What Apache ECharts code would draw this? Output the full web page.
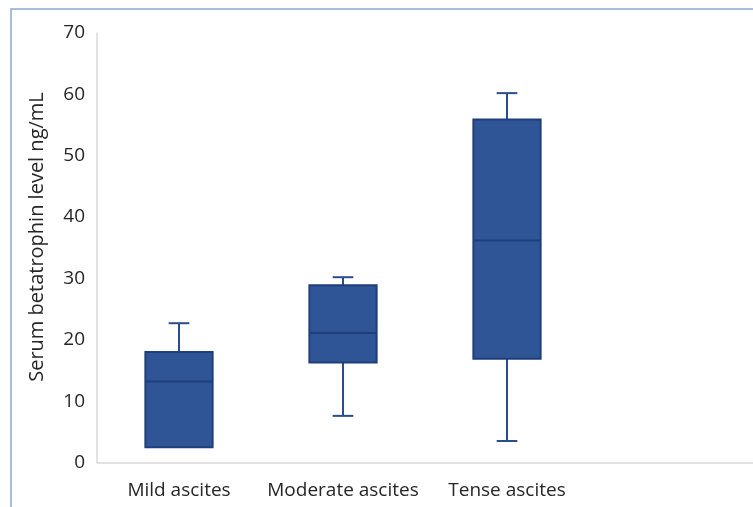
<!DOCTYPE html>
<html>
<head>
<meta charset="utf-8">
<script src="https://cdn.jsdelivr.net/npm/echarts@6/dist/echarts.min.js"></script>
<style>
  html, body { margin: 0; padding: 0; background: #ffffff; }
  #chart { width: 753px; height: 507px; }
</style>
</head>
<body>
<div id="chart"></div>
<script>
// Groups on the x axis (a trailing empty slot keeps the axis running to the right edge)
const categories = ['Mild ascites', 'Moderate ascites', 'Tense ascites', ''];
// Five-number summaries per group, ng/mL
const minValues    = [2.5, 7.6, 3.5];
const q1Values     = [2.5, 16.3, 16.9];
const medianValues = [13.2, 21.1, 36.2];
const q3Values     = [18.0, 28.9, 55.9];
const maxValues    = [22.7, 30.2, 60.2];
// Y axis ticks
const yMin = 0, yMax = 70, yStep = 10;
const yTitle = 'Serum betatrophin level ng/mL';

const BOX_FILL = '#2f5597';
const BOX_EDGE = '#1f3f7c';
const WHISKER = '#2a4d8c';

const rows = categories.slice(0, 3).map((c, i) =>
  [i, minValues[i], q1Values[i], medianValues[i], q3Values[i], maxValues[i]]);

function renderBox(params, api) {
  const idx = api.value(0);
  const vMin = api.value(1), vQ1 = api.value(2), vMed = api.value(3),
        vQ3 = api.value(4), vMax = api.value(5);
  const band = api.size([1, 0])[0];
  const half = band * 0.205;
  const cap = band * 0.063;
  const pMin = api.coord([idx, vMin]);
  const pQ1 = api.coord([idx, vQ1]);
  const pMed = api.coord([idx, vMed]);
  const pQ3 = api.coord([idx, vQ3]);
  const pMax = api.coord([idx, vMax]);
  const cx = pMed[0];
  const lineStyle = { stroke: WHISKER, lineWidth: 2, fill: null };
  const children = [];
  if (vMax > vQ3) {
    children.push({ type: 'line', shape: { x1: cx, y1: pQ3[1], x2: cx, y2: pMax[1] }, style: lineStyle });
    children.push({ type: 'line', shape: { x1: cx - cap, y1: pMax[1], x2: cx + cap, y2: pMax[1] }, style: lineStyle });
  }
  if (vMin < vQ1) {
    children.push({ type: 'line', shape: { x1: cx, y1: pQ1[1], x2: cx, y2: pMin[1] }, style: lineStyle });
    children.push({ type: 'line', shape: { x1: cx - cap, y1: pMin[1], x2: cx + cap, y2: pMin[1] }, style: lineStyle });
  }
  children.push({
    type: 'rect',
    shape: { x: cx - half, y: pQ3[1], width: half * 2, height: pQ1[1] - pQ3[1] },
    style: { fill: BOX_FILL, stroke: BOX_EDGE, lineWidth: 2 }
  });
  children.push({
    type: 'line',
    shape: { x1: cx - half, y1: pMed[1], x2: cx + half, y2: pMed[1] },
    style: { stroke: BOX_EDGE, lineWidth: 2 }
  });
  return { type: 'group', children: children };
}

const chart = echarts.init(document.getElementById('chart'), null, { renderer: 'canvas' });
chart.setOption({
  animation: false,
  backgroundColor: '#ffffff',
  grid: { left: 97, right: -2, top: 33, bottom: 44.5, containLabel: false },
  graphic: [
    {
      type: 'rect', silent: true, z: -1,
      shape: { x: 11, y: 9, width: 800, height: 600 },
      style: { fill: null, stroke: '#8fa6cf', lineWidth: 1.5 }
    },
    {
      type: 'text', x: 37, y: 237, rotation: Math.PI / 2,
      style: {
        text: yTitle, fill: '#262626', align: 'center', verticalAlign: 'middle',
        font: '20px "Open Sans", sans-serif'
      }
    }
  ],
  xAxis: {
    type: 'category',
    data: categories,
    boundaryGap: true,
    axisLine: { show: true, lineStyle: { color: '#d9d9d9', width: 1.5 } },
    axisTick: { show: false },
    axisLabel: { color: '#262626', fontSize: 19, fontFamily: 'Open Sans', margin: 19, interval: 0 },
    splitLine: { show: false }
  },
  yAxis: {
    type: 'value',
    min: yMin, max: yMax, interval: yStep,
    axisLine: { show: true, lineStyle: { color: '#d9d9d9', width: 1.5 } },
    axisTick: { show: false },
    axisLabel: { color: '#262626', fontSize: 19, fontFamily: 'Open Sans', margin: 12 },
    splitLine: { show: false }
  },
  series: [{
    type: 'custom',
    renderItem: renderBox,
    encode: { x: 0, y: [1, 2, 3, 4, 5] },
    data: rows,
    clip: false
  }]
});
</script>
</body>
</html>
